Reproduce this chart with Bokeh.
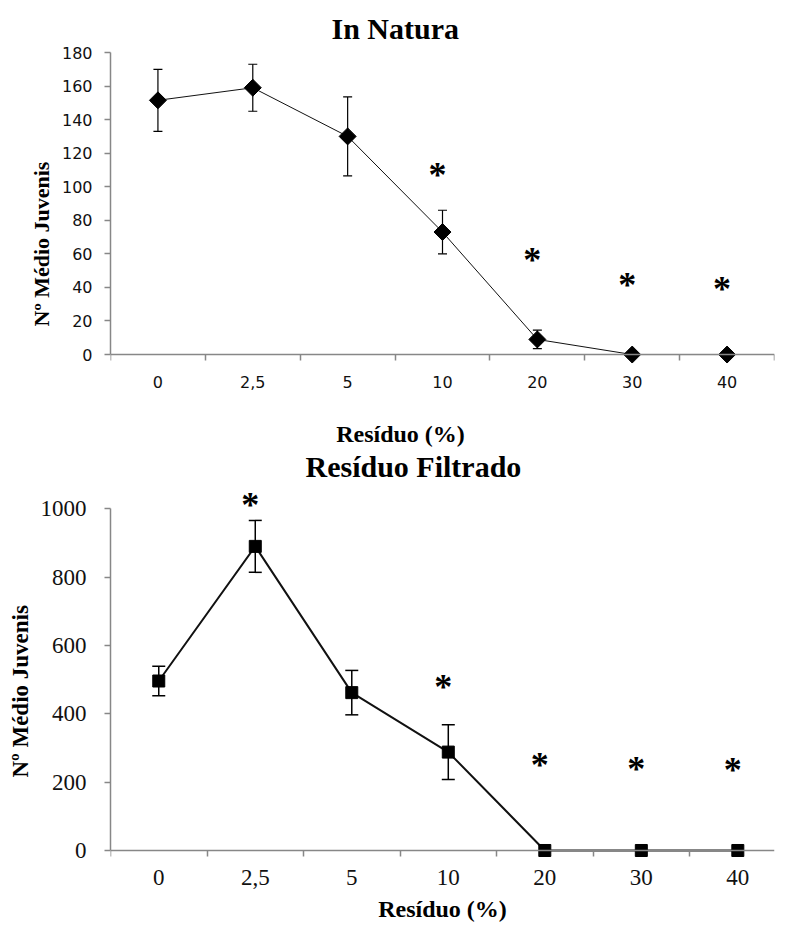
import numpy as np
from bokeh.plotting import figure
from bokeh.models import (ColumnDataSource, Whisker, TeeHead, LabelSet, FixedTicker,
                          Range1d, Title, LinearAxis)
from bokeh.layouts import column
from bokeh.embed import file_html
from bokeh.resources import INLINE

# ---- data ----
categories = ["0", "2,5", "5", "10", "20", "30", "40"]

natura_mean = [151.5, 159, 130, 73, 9, 0, 0]
natura_err = [18.5, 14, 23.5, 13, 5.5, 0, 0]
natura_sig_cats = ["10", "20", "30", "40"]
natura_sig_y = [112, 61, 46, 44]

filtrado_mean = [496, 890, 462, 288, 0, 0, 0]
filtrado_err = [43, 76, 65, 80, 0, 0, 0]
filtrado_sig_cats = ["2,5", "10", "20", "30", "40"]
filtrado_sig_y = [1034, 503, 273, 263, 258]

natura_yticks = list(range(0, 181, 20))
filtrado_yticks = list(range(0, 1001, 200))

X_LABEL = "Resíduo (%)"
Y_LABEL = "Nº Médio Juvenis"

SERIF = "Liberation Serif"
AXIS_GREY = "#878787"

xpos = [i + 0.5 for i in range(len(categories))]
cat_x = dict(zip(categories, xpos))
overrides = {float(x): c for x, c in zip(xpos, categories)}


def style_axes(p, yticks, ymax, tick_font, tick_size, ystandoff, xstandoff,
               xlabel, xlabel_standoff):
    p.xgrid.visible = False
    p.ygrid.visible = False
    p.outline_line_color = None
    # axis line + category boundary ticks, drawn at y = 0
    xa = p.xaxis[0]
    xa.fixed_location = 0
    xa.ticker = FixedTicker(ticks=[], minor_ticks=list(range(len(categories) + 1)))
    xa.major_tick_out = 0
    xa.major_tick_in = 0
    xa.minor_tick_out = 6
    xa.minor_tick_in = 0
    xa.minor_tick_line_color = AXIS_GREY
    xa.minor_tick_line_width = 1.5
    xa.axis_line_color = AXIS_GREY
    xa.axis_line_width = 1.5
    xa.major_label_standoff = 0
    # category labels + axis title below the frame
    lab = LinearAxis(ticker=FixedTicker(ticks=xpos, minor_ticks=[]),
                     major_label_overrides=overrides,
                     axis_line_color=None, major_tick_line_color=None,
                     minor_tick_line_color=None, major_tick_out=0, major_tick_in=0,
                     major_label_text_font=tick_font, major_label_text_font_size=tick_size,
                     major_label_text_color="#111111", major_label_standoff=xstandoff,
                     axis_label=xlabel, axis_label_standoff=xlabel_standoff,
                     axis_label_text_font=SERIF, axis_label_text_font_size="24px",
                     axis_label_text_font_style="bold", axis_label_text_color="black")
    p.add_layout(lab, "below")
    ya = p.yaxis[0]
    ya.bounds = (0, ymax)
    ya.ticker = FixedTicker(ticks=yticks)
    ya.major_tick_out = 6
    ya.major_tick_in = 0
    ya.minor_tick_out = 0
    ya.minor_tick_in = 0
    ya.major_tick_line_color = AXIS_GREY
    ya.major_tick_line_width = 1.5
    ya.axis_line_color = AXIS_GREY
    ya.axis_line_width = 1.5
    ya.major_label_text_font = tick_font
    ya.major_label_text_font_size = tick_size
    ya.major_label_text_color = "#111111"
    ya.major_label_standoff = ystandoff


def make_title(text, size, offset, standoff, valign="bottom"):
    return Title(text=text, align="left", offset=offset, standoff=standoff,
                 vertical_align=valign, text_font=SERIF, text_font_size=size,
                 text_font_style="bold", text_color="black")


def add_series(p, mean, err, marker, msize, angle, lw, cap, elw, sig_cats, sig_y):
    src = ColumnDataSource(dict(x=xpos, y=mean))
    keep = [i for i, e in enumerate(err) if e > 0]
    esrc = ColumnDataSource(dict(
        x=[xpos[i] for i in keep],
        lower=[mean[i] - err[i] for i in keep],
        upper=[mean[i] + err[i] for i in keep]))
    p.line("x", "y", source=src, line_color="#111111", line_width=lw)
    w = Whisker(base="x", lower="lower", upper="upper", source=esrc,
                line_color="black", line_width=elw,
                upper_head=TeeHead(size=cap, line_color="black", line_width=elw),
                lower_head=TeeHead(size=cap, line_color="black", line_width=elw))
    w.level = "glyph"
    p.add_layout(w)
    p.scatter("x", "y", source=src, marker=marker, size=msize, angle=angle,
              fill_color="black", line_color="black")
    ssrc = ColumnDataSource(dict(x=[cat_x[c] for c in sig_cats], y=sig_y,
                                 t=["*"] * len(sig_cats)))
    p.add_layout(LabelSet(x="x", y="y", text="t", source=ssrc, x_offset=-5, y_offset=12,
                          text_font="DejaVu Sans", text_font_size="36px",
                          text_font_style="bold",
                          text_align="center", text_baseline="top", text_color="black"))


# ---- top: In Natura ----  (frame 52..365 px, y=0 at 355 px)
p1 = figure(width=786, height=484, x_range=Range1d(0, 7), y_range=Range1d(-5.94, 180),
            output_backend="svg", toolbar_location=None, title=None,
            min_border_left=107, min_border_right=12, min_border_top=52,
            min_border_bottom=119, background_fill_color="white", border_fill_color="white")
# trailing no-break spaces shift the centred axis title left, as in the original
style_axes(p1, natura_yticks, 180, "DejaVu Sans", "16px", 12, 11,
           X_LABEL + "\u00a0" * 14, 30)
# heading of the second panel sits in the space between the two plots
p1.add_layout(make_title("Resíduo Filtrado", "30px", 195, 0, "top"), "below")
p1.add_layout(make_title(Y_LABEL, "22px", 38, 10), "left")
p1.add_layout(make_title("In Natura", "30px", 221, 16), "above")
add_series(p1, natura_mean, natura_err, "square", 12, np.pi / 4, 1, 9, 1.2,
           natura_sig_cats, natura_sig_y)

# ---- bottom: Resíduo Filtrado ----  (frame 484..860 px abs, y=0 at 850 px)
p2 = figure(width=786, height=442, x_range=Range1d(0, 6.88), y_range=Range1d(-29.3, 1071.1),
            output_backend="svg", toolbar_location=None, title=None,
            min_border_left=105, min_border_right=0, min_border_top=0,
            min_border_bottom=66, background_fill_color="white", border_fill_color="white")
style_axes(p2, filtrado_yticks, 1000, SERIF, "23px", 18, 9, X_LABEL, 8)
p2.add_layout(make_title(Y_LABEL, "23px", 83, 10), "left")
add_series(p2, filtrado_mean, filtrado_err, "square", 12, 0, 2, 13, 1.5,
           filtrado_sig_cats, filtrado_sig_y)

layout = column(p1, p2, spacing=0)
open("out.html", "w").write(file_html(layout, INLINE))
